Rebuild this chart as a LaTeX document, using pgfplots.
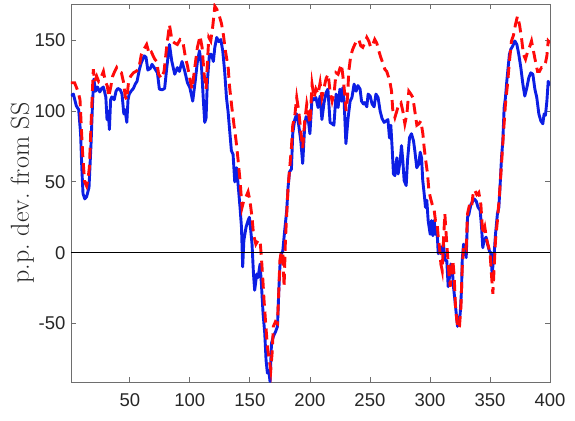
\documentclass[border=0pt]{standalone}
\usepackage{fontspec}
\usepackage{pgfplots}
\pgfplotsset{compat=1.18}
\newfontfamily\tickfont{Liberation Sans}
\definecolor{axgray}{RGB}{110,110,110}
\definecolor{txtgray}{RGB}{38,38,38}
\definecolor{lineblue}{RGB}{12,30,228}
\definecolor{linered}{RGB}{255,10,10}
\begin{document}
\begin{tikzpicture}
\begin{axis}[
  scale only axis, width=479pt, height=378pt,
  xmin=1, xmax=400, ymin=-91.3, ymax=175.6,
  xtick={50,100,...,400}, ytick={-50,0,...,150},
  tick align=inside, major tick length=5pt,
  axis line style={color=axgray, line width=0.8pt},
  tick style={color=axgray, line width=0.8pt},
  ticklabel style={font=\tickfont\fontsize{18.5}{22}\selectfont, text=txtgray},
  /pgf/number format/assume math mode=true,
  xticklabel style={yshift=-8pt},
  yticklabel style={xshift=-2pt},
  ylabel={p.p.\ dev.\ from SS},
  ylabel style={font=\fontsize{26}{31}\selectfont, text=txtgray,
    at={(axis description cs:-0.0877,0.5)}, anchor=base},
]
\coordinate (bl) at (rel axis cs:0,0);
\coordinate (tr) at (rel axis cs:1,1);
% solid series
\addplot[lineblue, line width=2.9pt, line join=round] coordinates {
(1,110.8) (3,112) (5.4,103.7) (7.4,101) (9,84) (10,60) (11,41.7) (12.5,38) (14,39.5) (16,46)
(17.8,79) (19,107) (20,122.5) (21.5,114) (23,117) (25,113.5) (26.5,116) (28,117) (30,110) (31,94)
(32,100) (33,87) (34,108) (35,110) (37,108) (38.5,114) (40,116) (42,115) (43.5,112) (45,98)
(46,101) (47.5,92) (48.5,108) (49.5,112) (51,114) (53,116) (54.5,119) (56,121) (58,129.5) (59.5,134)
(62,139) (63.5,138) (65,129) (67,130) (68.5,133) (70.8,130) (73,127) (74.6,115.5) (76.9,115) (79,116)
(80.8,130.7) (83,147) (85,135) (87.4,126) (89.6,130.7) (91.3,128) (93.5,135) (95.8,128) (98,120) (100,116.5)
(102.4,107) (104.6,122) (106.3,135) (108,142.5) (109.6,133) (111.3,107) (112.4,92) (113.5,95) (114.6,121) (116.3,140)
(118,140) (119.6,135) (120.8,145) (122.4,152) (124,149) (125.8,150.5) (127.4,142.5) (129,128) (130.5,109.5) (131.8,100)
(134.6,72) (136,69.5) (137.4,50) (139,60) (140,50) (141.8,32) (143,18) (144,-10) (145,8.7) (146.8,18)
(148.5,22.7) (149.6,25) (150.7,16) (151.8,6) (153,-15) (154,-26.5) (155.7,-15) (156.8,-17.5) (158.5,-8) (159.6,-22)
(161,-43) (162.4,-57) (163.5,-76) (164.6,-85) (165.7,-83) (166.8,-91) (168,-64) (169.6,-59) (171.3,-56) (173,-52)
(174,-29) (175,-10) (176.2,-0.7) (177.4,1) (179,15.7) (180.7,30) (181.8,46) (183,57) (184.6,59) (185.7,84)
(187.4,94) (189,98) (190.7,90) (192.4,79) (194,63) (195.7,90) (196.8,96) (198.5,95) (200,84) (201.8,109.5)
(203.5,108) (205,109.5) (206.8,102.5) (208.5,110.6) (210,94) (211.8,106) (213.5,113) (215,115.5) (216.8,92) (218.5,91)
(220,90) (221.8,112) (223.5,102.5) (225,115.5) (226.3,107) (227.4,116.5) (228.5,107) (230,77) (231.8,95) (233.5,107)
(235,109.5) (236.8,119) (238.5,114) (240,118) (241.8,115.5) (243,107) (244.6,105) (245.7,106) (247.4,103) (248.5,112)
(250.2,110.6) (251.8,105) (253.5,103) (255,112) (256.8,109.5) (258.5,100) (260,95) (261.8,92) (263.5,93) (265,94)
(266.3,81) (267.4,90) (268.5,74) (269.6,55.6) (270.8,54.4) (272.4,67) (273.5,55.6) (275.2,65) (276.3,75.6) (277.4,65)
(278.5,51) (280.2,47.4) (281.3,65) (283,81.4) (284.6,84) (286.3,79) (287.4,72) (289,60) (290.7,62.5) (291.9,71)
(293,67) (294,51) (295.2,41.5) (296.3,32) (297.4,37) (298.5,22.7) (300.2,13) (301.3,22.7) (302.4,12) (303.5,22.7)
(304.6,13) (305.8,17.6) (306.9,-0.7) (308,3.5) (309,-0.7) (310.2,3.5) (311.3,6) (312.4,-5.4) (314,-5.4) (315.2,-24)
(316.3,-17) (317.4,-8) (318.5,-10) (319.6,-24) (320.8,-33.6) (321.9,-43) (323,-52) (324.1,-48) (325.2,-43) (326.3,-26)
(326.9,-5) (328,6) (329.1,3.5) (330.2,-3.5) (331.3,25) (332.4,27) (334.1,34) (335.8,36.5) (336.8,38) (338.5,36.5)
(340.1,32) (341.8,30) (343,18) (344,3.5) (345.1,8.7) (346.8,11) (348,6) (349.6,1) (350.7,0) (351.8,-15)
(353.5,-0.7) (354.6,13) (356.2,27.5) (357.4,32) (358.5,48.6) (359.6,67) (360.7,79) (361.8,102.5) (362.9,109.5) (364,121)
(365.1,130.7) (366.2,140) (367.4,143.7) (369,146) (370.7,149.5) (372.4,147) (374,140) (375.7,130.7) (377.4,119) (379,110.6)
(380.7,116.5) (382.4,123.7) (384,127) (385.7,126) (387.4,115.5) (389,109.5) (390.7,98) (392.4,93) (394,91) (395.1,98)
(396.2,97) (397.4,107) (398.5,121) (400,118)
};
% dashed series
\addplot[linered, line width=2.9pt, dash pattern=on 11pt off 6pt] coordinates {
(1,120) (4,120) (7,113.5) (8.5,108) (9.6,88.5) (10.7,70) (11.5,60) (12.4,50) (14,47) (15,51)
(16.3,60) (17.4,84) (18.5,107.5) (19.6,129.5) (20.7,121) (22.4,124.6) (24,121) (25.7,123) (28,128) (29.6,121)
(31.3,117.5) (32.4,110) (34,116.5) (35.7,124.6) (37.4,128) (39,130.7) (40.7,128) (43,127) (44.6,121) (46.3,110)
(47.4,108) (49,121) (50.7,124.6) (53,127) (55,128) (57.4,129.5) (59.6,140) (61.8,143.7) (64,147) (66.3,140)
(68,141.5) (70.8,136.6) (72.4,135) (74,126) (76.3,123) (78.5,128) (80.8,146) (83,161) (85.2,149.5) (87.4,148)
(89.6,147) (91.9,150.5) (94.1,149.5) (96.3,138) (98,132) (100.2,122) (101.9,115.5) (104.1,130.7) (106.3,145) (108.5,153)
(110.2,145) (111.9,126) (113.5,115.5) (114.6,134) (115.8,152) (117.4,149.5) (119.1,160) (120.8,174) (122.4,172) (124.6,167)
(126.3,162) (128,153.6) (129.6,142.5) (130.5,138) (132,130) (133,118) (135,102.5) (136.8,90) (138.5,79) (140,67)
(141.8,51) (143.5,32) (145,37) (146.8,39.5) (148.5,43) (150,37) (151.8,25) (153,13) (155,6) (156.8,8.7)
(158.5,8.7) (159.6,-3.4) (160.7,-17.5) (161.8,-33.6) (163,-48) (164.6,-66.5) (166.2,-76) (167.4,-83) (168.5,-71) (169.6,-52)
(171.3,-48.7) (173,-50) (174,-29) (175,-5.4) (176.2,1) (177.4,-0.7) (178.5,-24) (179.6,8.7) (180.7,27.5) (181.8,46)
(183,58) (184.6,74) (185.7,90) (187.4,96.6) (189,109.5) (190.7,100) (192.4,86) (194,74) (195.7,93) (197.4,105)
(198.5,100) (200,91) (201.8,119) (203.5,109.5) (205,115.5) (206.8,112) (208.5,120) (210,109.5) (211.8,116.5) (213.5,123)
(215.2,126) (216.8,114) (218.5,107) (220.2,113) (221.8,127) (223.5,126) (225.2,130.7) (226.3,133) (228,121) (229,112)
(230.2,100) (231.3,109.5) (232.4,128) (234,139) (235.7,143.7) (237.4,147) (239,149.5) (240.7,150.6) (242.4,146) (244,145)
(245.7,148) (247.4,152) (249,149.5) (250.7,145) (252.4,147) (254,150.6) (255.7,148) (257.4,142.5) (259,138) (260.7,134)
(262.4,129.5) (264,128) (265.5,124) (267,119) (268,114) (269,101) (270.8,95.5) (272.4,100) (274.1,105) (275.8,106)
(277.4,100) (279.1,91) (280.8,98) (282.4,114) (284.1,112) (285.8,109.5) (287.4,100) (289.1,90) (290.8,91) (292.4,93)
(294.1,84) (295.2,74) (296.9,62.5) (298,55.6) (299.1,44) (300.2,39.5) (301.9,34) (303.5,30) (304.6,22.7) (305.8,22.7)
(306.9,11) (308,3.5) (309.1,-8) (310.2,-12.6) (311.3,8.7) (312.4,27.5) (313.5,13) (314.6,-0.7) (315.8,-15) (316.9,-24)
(318,-10) (319.1,-5.4) (320.2,-17) (321.3,-38.5) (322.4,-48) (323.5,-53.7) (324.6,-52) (325.8,-38.5) (326.9,-10) (328,3.5)
(329.1,6) (330.2,3.5) (331.3,27.5) (333,34) (334.6,32) (336.3,44) (337.4,44) (339,41) (340.7,42.5) (342.4,34)
(344,13) (345.7,18) (347.4,8.7) (349,3.5) (350.1,-0.7) (351.2,-15) (352.4,-29) (353.5,-10) (354.6,8.7) (356.2,22.7)
(357.9,41) (359.6,62.5) (361.2,84) (362.9,105) (364.6,119) (366.2,135) (367.9,149.5) (369.6,153.6) (371.2,161) (372.9,167)
(374.6,161) (376.2,152) (377.9,140) (379.6,136.6) (381.2,141.5) (382.9,145) (384.6,149.5) (386.2,142.5) (387.9,135) (389.6,128)
(391.2,128) (392.9,130.7) (394.6,130.7) (396.2,134) (397.4,139) (398.5,149.5) (400,148)
};
% zero reference line
\addplot[black, line width=1.2pt] coordinates {(1,0) (400,0)};
\end{axis}
\pgfresetboundingbox
\path (bl) ++(-71pt,-38pt) coordinate (p1);
\path (tr) ++(25pt,4pt) coordinate (p2);
\path (p1) rectangle (p2);
\end{tikzpicture}
\end{document}
